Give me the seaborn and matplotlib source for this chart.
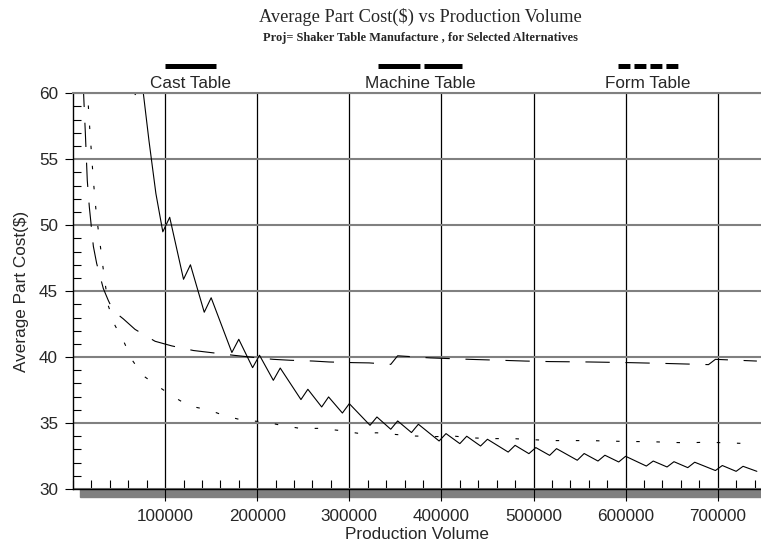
import numpy as np
import pandas as pd
import matplotlib
matplotlib.use("Agg")
import matplotlib.pyplot as plt
import seaborn as sns
from matplotlib.lines import Line2D
from matplotlib.patches import Rectangle
from matplotlib.ticker import MultipleLocator

# ---------------- data ---------------- #
alternatives = ["Cast Table", "Machine Table", "Form Table"]

cast_volume = [60000, 67500, 75000, 82500, 90000, 97500, 105000, 120000, 127500,
               142500, 150000, 172500, 180000, 195000, 202500, 217500, 225000,
               247500, 255000, 270000, 277500, 292500, 300000, 322500, 330000,
               345000, 352500, 367500, 375000, 397500, 405000, 420000, 427500,
               442500, 450000, 472500, 480000, 495000, 502500, 517500, 525000,
               547500, 555000, 570000, 577500, 592500, 600000, 622500, 630000,
               645000, 652500, 667500, 675000, 697500, 705000, 720000, 727500,
               742500]
cast_cost = [64.5, 59.9, 60.8, 56.4, 52.4, 49.5, 50.6, 45.9, 47.0,
             43.4, 44.5, 40.35, 41.35, 39.2, 40.14, 38.24, 39.17,
             36.78, 37.56, 36.22, 36.98, 35.76, 36.47, 34.83, 35.46,
             34.53, 35.16, 34.28, 34.91, 33.64, 34.2, 33.44, 34.0,
             33.26, 33.77, 32.8, 33.31, 32.68, 33.14, 32.55, 33.06,
             32.18, 32.69, 32.12, 32.56, 32.05, 32.48, 31.74, 32.12,
             31.67, 32.07, 31.62, 32.03, 31.4, 31.78, 31.34, 31.72,
             31.34]

machine_volume = [11000, 12300, 13400, 15500, 17700, 19600, 22100, 25700, 32900,
                  38300, 43800, 54600, 67400, 89100, 107200, 130700, 148800,
                  174100, 206700, 217600, 235700, 261100, 278100, 304500,
                  321600, 345000, 352500, 387800, 430500, 463900, 491000,
                  517500, 560900, 604400, 647800, 690000, 697500, 742500]
machine_cost = [60.8, 58.7, 57.0, 53.4, 51.4, 50.1, 48.4, 47.1, 45.2,
                44.3, 43.5, 42.9, 42.1, 41.2, 40.85, 40.5, 40.35,
                40.14, 39.9, 39.83, 39.76, 39.7, 39.63, 39.58,
                39.56, 39.45, 40.1, 39.94, 39.83, 39.76, 39.7,
                39.66, 39.63, 39.58, 39.51, 39.43, 39.83, 39.7]

form_volume = [15500, 17000, 18500, 20300, 22100, 25000, 27500, 30100, 32600,
               35500, 38300, 45600, 55000, 64000, 76000, 92000, 109000, 126000,
               147000, 165000, 185000, 207000, 227000, 248000, 268000, 289000,
               309000, 330000, 351000, 370000, 391000, 415000, 435000, 457000,
               478000, 499000, 520000, 541000, 562000, 583000, 604000, 626000,
               647000, 667000, 688000, 709000, 730000, 742500]
form_cost = [60.6, 58.6, 57.0, 55.2, 53.4, 51.1, 49.6, 48.2, 46.8,
             45.3, 43.9, 42.4, 41.2, 39.8, 38.6, 37.8, 37.0, 36.3,
             36.0, 35.55, 35.2, 35.1, 34.82, 34.58, 34.6, 34.44,
             34.23, 34.26, 34.13, 34.02, 33.97, 34.0, 33.87, 33.82,
             33.82, 33.74, 33.67, 33.67, 33.67, 33.63, 33.6, 33.59,
             33.54, 33.5, 33.55, 33.5, 33.45, 33.44]

x_ticks = [100000, 200000, 300000, 400000, 500000, 600000, 700000]
y_ticks = [30, 35, 40, 45, 50, 55, 60]

df = pd.concat([
    pd.DataFrame({"volume": cast_volume, "cost": cast_cost, "alternative": alternatives[0]}),
    pd.DataFrame({"volume": machine_volume, "cost": machine_cost, "alternative": alternatives[1]}),
    pd.DataFrame({"volume": form_volume, "cost": form_cost, "alternative": alternatives[2]}),
], ignore_index=True)

# ---------------- styling ---------------- #
sns.set_style("white")
plt.rcParams["font.family"] = ["Liberation Sans", "DejaVu Sans"]
plt.rcParams["lines.scale_dashes"] = False

W, H = 761, 544
fig = plt.figure(figsize=(W / 100, H / 100), dpi=100)
ax = fig.add_axes([73 / W, 1 - 489 / H, (W - 73) / W, (489 - 93.3) / H])

dash_map = {"Cast Table": "", "Machine Table": (17.5, 11.3), "Form Table": (2.5, 12)}
sns.lineplot(data=df, x="volume", y="cost", hue="alternative", style="alternative",
             palette={a: "black" for a in alternatives}, dashes=dash_map,
             sort=False, estimator=None, lw=0.8, legend=False, ax=ax)

ax.set_xlim(0, 747000)
ax.set_ylim(30, 60)
ax.set_xticks(x_ticks)
ax.set_xticklabels([str(v) for v in x_ticks])
ax.set_yticks(y_ticks)
ax.set_yticklabels([str(v) for v in y_ticks])
ax.xaxis.set_minor_locator(MultipleLocator(20000))
ax.yaxis.set_minor_locator(MultipleLocator(1))

ax.tick_params(axis="x", which="major", direction="out", length=8.6, width=0.8,
               color="black", labelsize=12.3, pad=6, bottom=True)
ax.tick_params(axis="x", which="minor", direction="in", length=6.5, width=0.8,
               color="black", bottom=True)
ax.tick_params(axis="y", which="major", direction="out", length=5.8, width=0.8,
               color="black", labelsize=12.3, pad=5, left=True)
ax.tick_params(axis="y", which="minor", direction="in", length=6, width=0.8,
               color="black", left=True)

ax.grid(axis="y", which="major", color="#808080", lw=1.5)
ax.grid(axis="x", which="major", color="black", lw=0.9)

for s in ["left", "bottom"]:
    ax.spines[s].set_color("black")
    ax.spines[s].set_linewidth(1.0)
ax.spines["top"].set_color("#808080")
ax.spines["top"].set_linewidth(1.5)
ax.spines["right"].set_visible(False)

ax.set_xlabel("Production Volume", fontsize=12.3, labelpad=2)
ax.set_ylabel("Average Part Cost($)", fontsize=12.3, labelpad=7)

# gray shadow bar under the x axis
fig.add_artist(Rectangle((80 / W, 1 - 497 / H), (W - 80) / W, 8 / H,
                         transform=fig.transFigure, color="#808080", zorder=-1))

# titles
fig.text(420 / W, 1 - 17 / H, "Average Part Cost($) vs Production Volume",
         family="Liberation Serif", fontsize=13.2, ha="center", va="center")
fig.text(420 / W, 1 - 38 / H, "Proj= Shaker Table Manufacture , for Selected Alternatives",
         family="Liberation Serif", fontweight="bold", fontsize=8.9, ha="center", va="center")

# legend: symbol above label
legend_items = [
    ("Cast Table", 190, 165, 216, "-"),
    ("Machine Table", 420, 378, 462, (0, (30.2, 2.9))),
    ("Form Table", 648, 618, 680, (0, (8.6, 2.9))),
]
for label, cx, x0, x1, ls in legend_items:
    fig.add_artist(Line2D([x0 / W, x1 / W], [1 - 66 / H, 1 - 66 / H],
                          transform=fig.transFigure, color="black", lw=3.6,
                          linestyle=ls, solid_capstyle="butt", dash_capstyle="butt"))
    fig.text(cx / W, 1 - 84 / H, label, fontsize=12.3, ha="center", va="center")

fig.savefig("out.png", dpi=100)
